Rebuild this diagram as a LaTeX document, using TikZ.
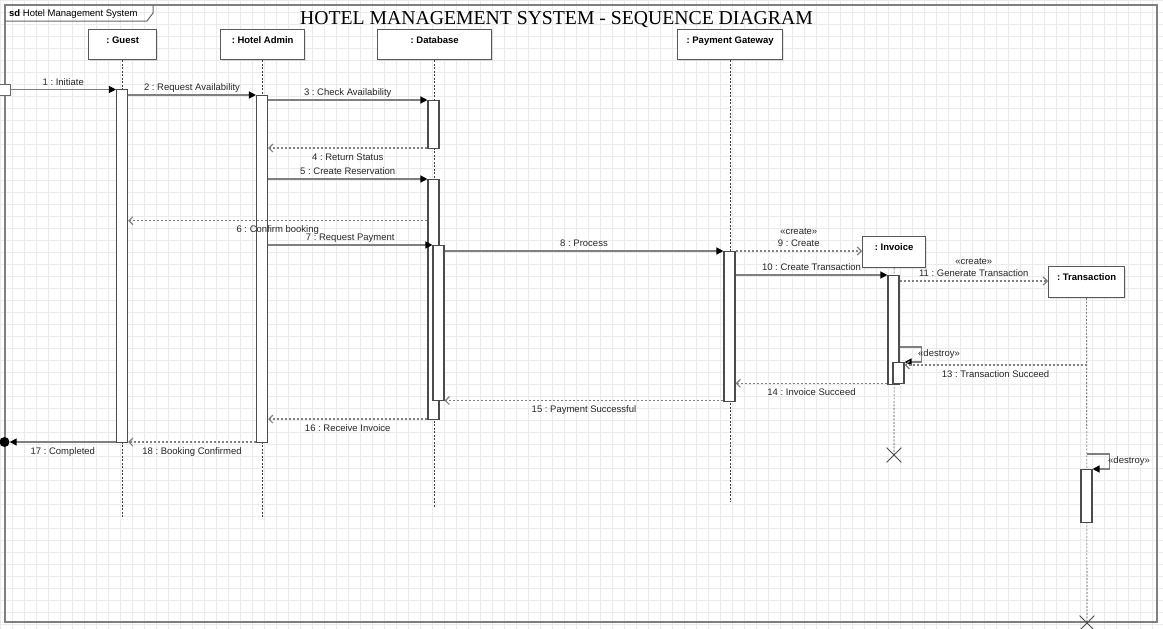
\documentclass[tikz,border=0pt]{standalone}
\usepackage{fontspec}
\setmainfont{Liberation Serif}
\setsansfont{Liberation Sans}
\usetikzlibrary{arrows.meta,shapes.misc,shadows,positioning}
\frenchspacing

\begin{document}
\begin{tikzpicture}[x=1pt,y=-1pt,
  font=\sffamily\fontsize{9.5}{11.5}\selectfont,
  every node/.append style={inner sep=0pt},
  gridline/.style={black!8, line width=0.5pt},
  frame/.style={black!50, line width=1.5pt},
  head/.style={draw=black!65, fill=white, line width=1.3pt, anchor=north west,
    font=\sffamily\bfseries\fontsize{9.5}{11.5}\selectfont,
    text height=14pt, text depth=16.5pt,
    drop shadow={shadow xshift=1.5pt, shadow yshift=-1.5pt, opacity=0.2}},
  life/.style={black!75, line width=0.6pt, dash pattern=on 2pt off 1.5pt},
  bar/.style={draw=black!70, fill=white, line width=1.1pt, minimum width=11pt, anchor=north},
  msg/.style={black!50, line width=1.3pt, -{Triangle[length=7pt,width=7pt,color=black]}},
  reply/.style={black!50, line width=1.2pt, dash pattern=on 2pt off 2pt,
    -{Straight Barb[length=4pt,width=8pt]}},
  lbl/.style={text=black!85, text height=7pt, text depth=2pt},
  found/.style={draw=black!60, fill=white, line width=1pt, minimum size=11pt},
  lost/.style={circle, fill=black, minimum size=10pt},
  stop/.style={cross out, draw=black!70, line width=0.8pt, minimum size=14pt}
]
\useasboundingbox (0,0) rectangle (1163,629);
\draw[gridline, step=12pt] (0,629) grid (1163,0);
\draw[frame] (5,5) rectangle (1157,622);
\draw[black!60, line width=1pt] (5,21) -- (147,21) -- (153,13) -- (153,5);
\node[anchor=base west] (sdlabel) at (9,16.8) {\textbf{sd} Hotel Management System};
\node[font=\rmfamily\fontsize{19.7}{24}\selectfont, anchor=base] (title) at (556.5,24.3)
  {HOTEL MANAGEMENT SYSTEM - SEQUENCE DIAGRAM};

\node[head, minimum width=68pt] (guest) at (88,28.5) {: Guest};
\node[head, minimum width=84pt] (admin) at (220,28.5) {: Hotel Admin};
\node[head, minimum width=114pt] (db) at (377,28.5) {: Database};
\node[head, minimum width=105pt] (pay) at (677,28.5) {: Payment Gateway};
\node[head, minimum width=63pt] (inv) at (862,236) {: Invoice};
\node[head, minimum width=76pt] (trans) at (1048,266) {: Transaction};

\node[stop] (invx) at (894,455) {};
\node[stop] (transx) at (1087,623) {};

\draw[life] (guest.south) -- (guest.south |- 0,517);
\draw[life] (admin.south) -- (admin.south |- 0,517);
\draw[life] (db.south) -- (db.south |- 0,507);
\draw[life] (pay.south) -- (pay.south |- 0,502);
\draw[life] (inv.south) -- (invx.center);
\draw[life] (trans.south) -- (transx.center);

\node[bar, minimum height=353pt] (gbar) at (122,89) {};
\node[bar, minimum height=347pt] (abar) at (262,95) {};
\node[bar, minimum height=48pt] (dbar1) at (433.5,100) {};
\node[bar, minimum height=240pt] (dbar2) at (433.5,179) {};
\node[bar, minimum height=155pt] (dbar3) at (438.5,245) {};
\node[bar, minimum height=150pt] (pbar) at (729.5,251) {};
\node[bar, minimum height=109pt] (ibar1) at (893.5,275) {};
\node[bar, minimum height=21pt] (ibar2) at (898.5,362) {};
\node[bar, minimum height=53pt] (tbar) at (1086.5,469) {};

\node[found] (start) at (4.5,89.5) {};
\node[lost] (finish) at (4.5,442) {};

\draw[msg] (start.east) -- (gbar.west |- start.east)
  node[lbl, midway, above=1.5pt] {1 : Initiate};
\draw[msg] (gbar.east |- 0,95) -- (abar.west |- 0,95)
  node[lbl, midway, above=1.5pt] {2 : Request Availability};
\draw[msg] (abar.east |- 0,100) -- (dbar1.west |- 0,100)
  node[lbl, midway, above=1.5pt] {3 : Check Availability};
\draw[reply] (dbar1.west |- 0,148) -- (abar.east |- 0,148)
  node[lbl, midway, below=4.5pt] {4 : Return Status};
\draw[msg] (abar.east |- 0,179) -- (dbar2.west |- 0,179)
  node[lbl, midway, above=1.5pt] {5 : Create Reservation};
\draw[reply] (dbar2.west |- 0,220.7) -- (gbar.east |- 0,220.7)
  node[lbl, midway, below=4.5pt] {6 : Confirm booking};
\draw[msg] (abar.east |- 0,245) -- (dbar3.west |- 0,245)
  node[lbl, midway, above=1.5pt] {7 : Request Payment};
\draw[msg] (dbar3.east |- 0,251) -- (pbar.west |- 0,251)
  node[lbl, midway, above=1.5pt] {8 : Process};
\draw[reply] (pbar.east |- 0,251) -- (inv.west |- 0,251)
  node[lbl, midway, above=1.5pt] (create9) {9 : Create};
\node[lbl, above=2.7pt of create9] (stereo9) {«create»};
\draw[msg] (pbar.east |- 0,275) -- (ibar1.west |- 0,275)
  node[lbl, midway, above=1.5pt] {10 : Create Transaction};
\draw[reply] (ibar1.east |- 0,281) -- (trans.west |- 0,281)
  node[lbl, midway, above=1.5pt] (create11) {11 : Generate Transaction};
\node[lbl, above=2.7pt of create11] (stereo11) {«create»};
\draw[msg] (ibar1.east |- 0,347) -- ++(22,0) |- (ibar2.east |- 0,362);
\node[lbl, anchor=west] (destroy12) at (918,354) {«destroy»};
\draw[reply] (trans.south |- 0,365) -- (ibar2.east |- 0,365)
  node[lbl, midway, below=4.5pt] {13 : Transaction Succeed};
\draw[reply] (ibar1.west |- 0,383.3) -- (pbar.east |- 0,383.3)
  node[lbl, midway, below=4.5pt] {14 : Invoice Succeed};
\draw[reply] (pbar.west |- 0,400.5) -- (dbar3.east |- 0,400.5)
  node[lbl, midway, below=4.5pt] {15 : Payment Successful};
\draw[reply] (dbar2.west |- 0,419) -- (abar.east |- 0,419)
  node[lbl, midway, below=4.5pt] {16 : Receive Invoice};
\draw[msg] (gbar.west |- 0,442) -- (finish.east)
  node[lbl, midway, below=4.5pt] {17 : Completed};
\draw[reply] (abar.west |- 0,442) -- (gbar.east |- 0,442)
  node[lbl, midway, below=4.5pt] {18 : Booking Confirmed};
\draw[msg] (trans.south |- 0,454) -- ++(23,0) |- (tbar.north east);
\node[lbl, anchor=west] (destroytr) at (1108,461) {«destroy»};
\end{tikzpicture}
\end{document}
